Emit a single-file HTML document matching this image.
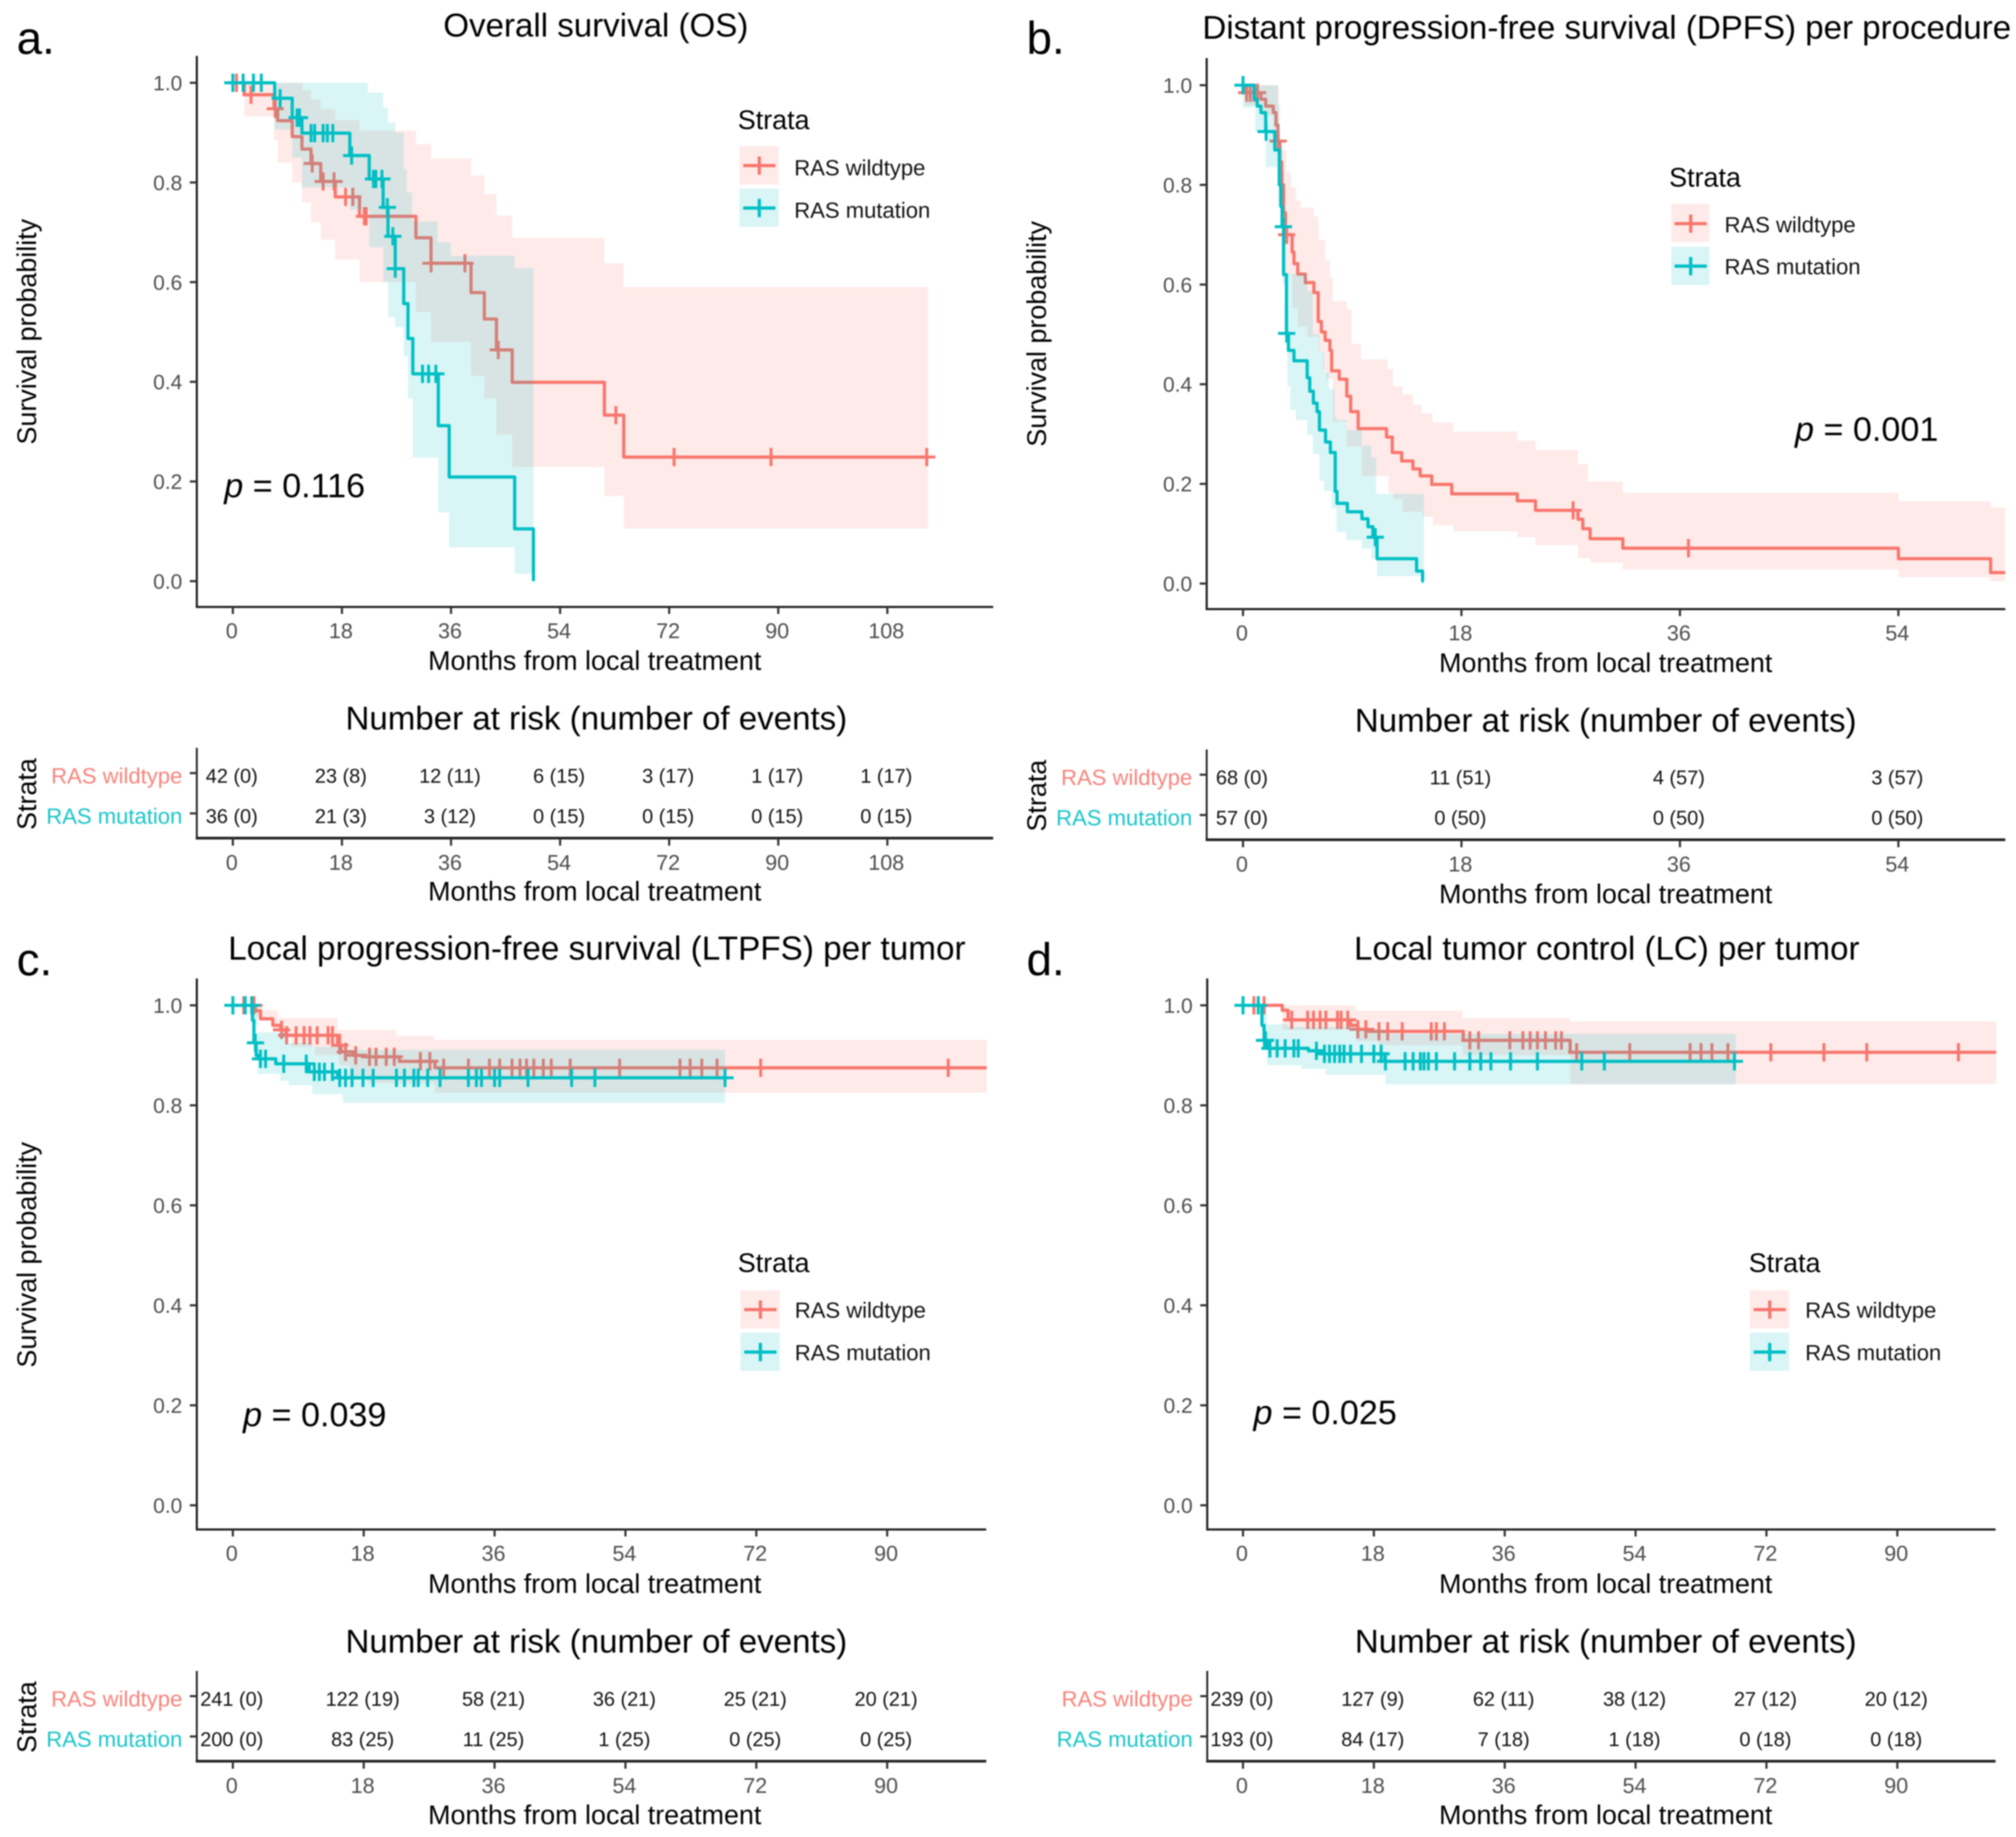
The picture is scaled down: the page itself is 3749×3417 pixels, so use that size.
<!DOCTYPE html>
<html lang="en">
<head>
<meta charset="utf-8">
<title>Kaplan-Meier survival by RAS status</title>
<style>
html,body{margin:0;padding:0;background:#fff;}
svg{display:block;filter:blur(1.4px);}
text{font-family:"Liberation Sans",sans-serif;fill:#000;}
.t{font-size:61.5px;text-anchor:middle;}
.ax{font-size:50px;text-anchor:middle;}
.pl{font-size:85px;}
.pv{font-size:63.5px;}
.lt{font-size:50px;}
.ll{font-size:41px;fill:#111;}
</style>
</head>
<body>
<svg id="chart" xmlns="http://www.w3.org/2000/svg" width="3749" height="3417" viewBox="0 0 3749 3417">
<rect x="0" y="0" width="3749" height="3417" fill="#fff"/>
<g id="marks"></g>

<text class="pl" x="31" y="100">a.</text>
<text class="pl" x="1909" y="100">b.</text>
<text class="pl" x="31" y="1814">c.</text>
<text class="pl" x="1909" y="1814">d.</text>

<text class="t" x="1108" y="68">Overall survival (OS)</text>
<text class="t" x="2988" y="72">Distant progression-free survival (DPFS) per procedure</text>
<text class="t" x="1110" y="1785" style="font-size:61.9px">Local progression-free survival (LTPFS) per tumor</text>
<text class="t" x="2988" y="1785">Local tumor control (LC) per tumor</text>

<text class="ax" transform="translate(67 617) rotate(-90)">Survival probability</text>
<text class="ax" transform="translate(1945 621) rotate(-90)">Survival probability</text>
<text class="ax" transform="translate(67 2334) rotate(-90)">Survival probability</text>

<text class="ax" x="1106" y="1246">Months from local treatment</text>
<text class="ax" x="2986" y="1250">Months from local treatment</text>
<text class="ax" x="1106" y="2963">Months from local treatment</text>
<text class="ax" x="2986" y="2963">Months from local treatment</text>

<text class="t" x="1109" y="1357">Number at risk (number of events)</text>
<text class="t" x="2986" y="1361">Number at risk (number of events)</text>
<text class="t" x="1109" y="3074">Number at risk (number of events)</text>
<text class="t" x="2986" y="3074">Number at risk (number of events)</text>

<text class="ax" x="1106" y="1675">Months from local treatment</text>
<text class="ax" x="2986" y="1680">Months from local treatment</text>
<text class="ax" x="1106" y="3393">Months from local treatment</text>
<text class="ax" x="2986" y="3393">Months from local treatment</text>

<text class="ax" transform="translate(67 1477) rotate(-90)">Strata</text>
<text class="ax" transform="translate(1945 1480) rotate(-90)">Strata</text>
<text class="ax" transform="translate(67 3194) rotate(-90)">Strata</text>

<text class="pv" x="417" y="925"><tspan font-style="italic">p</tspan> = 0.116</text>
<text class="pv" x="3338" y="820"><tspan font-style="italic">p</tspan> = 0.001</text>
<text class="pv" x="452" y="2653"><tspan font-style="italic">p</tspan> = 0.039</text>
<text class="pv" x="2331" y="2649"><tspan font-style="italic">p</tspan> = 0.025</text>

<g>
<text class="lt" x="1372" y="240">Strata</text>
<rect x="1375" y="272" width="73" height="71" fill="#F8766D" fill-opacity=".15"/>
<path d="M1382 308H1442M1412 291V325" stroke="#F8766D" stroke-width="6" fill="none"/>
<text class="ll" x="1477" y="326">RAS wildtype</text>
<rect x="1375" y="351" width="73" height="71" fill="#00BFC4" fill-opacity=".15"/>
<path d="M1382 387H1442M1412 370V404" stroke="#00BFC4" stroke-width="6" fill="none"/>
<text class="ll" x="1477" y="405">RAS mutation</text>
</g>
<g>
<text class="lt" x="3104" y="347">Strata</text>
<rect x="3108" y="379" width="71" height="71" fill="#F8766D" fill-opacity=".15"/>
<path d="M3114 416H3174M3144 399V433" stroke="#F8766D" stroke-width="6" fill="none"/>
<text class="ll" x="3207" y="432">RAS wildtype</text>
<rect x="3108" y="459" width="71" height="71" fill="#00BFC4" fill-opacity=".15"/>
<path d="M3114 495H3174M3144 478V512" stroke="#00BFC4" stroke-width="6" fill="none"/>
<text class="ll" x="3207" y="510">RAS mutation</text>
</g>
<g>
<text class="lt" x="1372" y="2366">Strata</text>
<rect x="1377" y="2400" width="73" height="71" fill="#F8766D" fill-opacity=".15"/>
<path d="M1384 2436H1444M1414 2419V2453" stroke="#F8766D" stroke-width="6" fill="none"/>
<text class="ll" x="1478" y="2451">RAS wildtype</text>
<rect x="1377" y="2479" width="73" height="71" fill="#00BFC4" fill-opacity=".15"/>
<path d="M1384 2515H1444M1414 2498V2532" stroke="#00BFC4" stroke-width="6" fill="none"/>
<text class="ll" x="1478" y="2530">RAS mutation</text>
</g>
<g>
<text class="lt" x="3252" y="2366">Strata</text>
<rect x="3254" y="2400" width="73" height="71" fill="#F8766D" fill-opacity=".15"/>
<path d="M3261 2436H3321M3291 2419V2453" stroke="#F8766D" stroke-width="6" fill="none"/>
<text class="ll" x="3357" y="2451">RAS wildtype</text>
<rect x="3254" y="2479" width="73" height="71" fill="#00BFC4" fill-opacity=".15"/>
<path d="M3261 2515H3321M3291 2498V2532" stroke="#00BFC4" stroke-width="6" fill="none"/>
<text class="ll" x="3357" y="2530">RAS mutation</text>
</g>
</svg>

<script>
// ---------- shared tick labels ----------
const yTickValues = [0, 0.2, 0.4, 0.6, 0.8, 1.0];
const osXTicks = [0, 18, 36, 54, 72, 90, 108];
const dpfsXTicks = [0, 18, 36, 54];
const ltpfsXTicks = [0, 18, 36, 54, 72, 90];
const lcXTicks = [0, 18, 36, 54, 72, 90];
const strataLabels = ['RAS wildtype', 'RAS mutation'];

// ---------- a. overall survival ----------
const osWildTimes = [0,1.9,6.8,7.4,9.8,11.4,12.9,14.5,16.9,20.9,30.2,32.7,39.3,41.5,43.5,46.1,61.3,64.5];
const osWildSurv = [1,.976,.948,.924,.892,.867,.838,.802,.771,.732,.689,.638,.579,.526,.464,.399,.333,.249];
const osWildUpperTimes = [0,11.5,12.9,14.5,16.9,20.9,30.2,32.7,39.3,41.5,43.5,46.1,61.3,64.5];
const osWildUpper = [1,.985,.967,.947,.925,.904,.877,.848,.814,.777,.733,.689,.638,.59];
const osWildLowerTimes = [0,1.9,6.8,7.4,9.8,11.4,12.9,14.5,16.9,20.9,30.2,32.7,39.3,41.5,43.5,46.1,61.3,64.5];
const osWildLower = [1,.932,.885,.84,.8,.76,.72,.685,.645,.6,.54,.48,.412,.367,.294,.229,.171,.106];
const osWildCensor = [.6,3,7,13.1,14.9,16.7,18.6,19.8,21.7,22,25.6,32.7,38.3,43.8,63.2,72.8,88.8,114.5];
const osWildEnd = [114.7];
const osMutTimes = [0,6.9,9.8,11.4,19.3,22.5,24.8,25.6,26.8,28.2,28.9,29.7,33.9,35.7,46.5,49.6];
const osMutSurv = [1,.969,.93,.899,.854,.807,.75,.692,.627,.557,.487,.416,.312,.209,.105,0];
const osMutUpperTimes = [0,22.3,24.8,25.6,26.8,28.2,28.7,29.6,33.8,36,46.5];
const osMutUpper = [1,.98,.95,.92,.9,.826,.78,.722,.68,.653,.628];
const osMutLowerTimes = [0,6.9,9.8,11.4,19.3,22.5,24.8,25.6,26.8,28.2,28.9,29.7,33.9,35.7,46.5];
const osMutLower = [1,.906,.85,.79,.745,.67,.6,.53,.51,.451,.367,.248,.138,.068,.015];
const osMutCensor = [0,1.7,3.4,4.7,7.8,10.6,11,12.9,13.5,14.9,15.6,16.5,19.6,23.2,23.6,24.6,25.5,26.4,26.8,31.3,32.3,33.5];
const osMutEnd = [49.6];
const osRiskWild = ['42 (0)','23 (8)','12 (11)','6 (15)','3 (17)','1 (17)','1 (17)'];
const osRiskMut = ['36 (0)','21 (3)','3 (12)','0 (15)','0 (15)','0 (15)','0 (15)'];

// ---------- b. distant progression-free survival ----------
const dpfsWildTimes = [0,.16,1.48,1.87,2.5,2.72,2.88,3.03,3.19,3.34,3.5,4.05,4.2,4.51,5.14,5.84,6.2,6.46,6.77,7.16,7.3,7.93,8.55,8.87,9.49,11.82,12.3,13.07,14,14.6,15.55,17.2,22.6,24.1,27.6,28,28.6,31.3,54,61.6];
const dpfsWildSurv = [1,.985,.972,.958,.945,.92,.888,.846,.8,.744,.7,.665,.642,.621,.604,.584,.526,.505,.488,.468,.427,.41,.376,.345,.311,.294,.263,.246,.23,.216,.199,.18,.166,.147,.129,.11,.09,.071,.05,.022];
const dpfsWildUpperTimes = [0,2.96,3.58,3.97,4.36,4.75,5.84,6.22,6.77,7.16,7.39,8.56,8.95,9.72,11.9,12.37,13.15,14,14.7,15.6,17.3,22.6,24.1,27.6,28.4,31.3,54,61.6];
const dpfsWildUpper = [1,.87,.825,.795,.768,.754,.737,.689,.648,.614,.567,.55,.481,.45,.43,.396,.38,.359,.342,.323,.305,.287,.268,.24,.205,.182,.165,.153];
const dpfsWildLowerTimes = [0,.16,1.48,2.5,2.96,3.27,3.58,4.05,4.51,5.29,6.22,6.61,6.85,7.39,8.56,9.8,11.98,12.37,13.15,14.8,15.63,17.3,22.6,24.1,27.6,28.6,31.3,54,61.6];
const dpfsWildLower = [1,.96,.94,.9,.825,.757,.62,.553,.516,.495,.465,.427,.41,.325,.275,.216,.182,.17,.144,.134,.117,.105,.093,.077,.051,.042,.028,.013,.005];
const dpfsWildCensor = [.3,.6,.9,1.2,2.9,3.6,27.2,36.7];
const dpfsWildEnd = [62.8];
const dpfsMutTimes = [0,.94,1.17,1.48,1.87,2.62,2.99,3.11,3.22,3.34,3.58,3.75,4.2,5.29,5.5,5.8,6.1,6.3,6.8,7.2,7.6,7.75,8.6,9.8,10.3,10.7,11.05,14.3,14.8];
const dpfsMutSurv = [1,.972,.958,.945,.907,.87,.8,.757,.716,.62,.502,.468,.447,.413,.386,.362,.345,.308,.284,.263,.185,.161,.144,.13,.114,.093,.05,.025,.005];
const dpfsMutUpperTimes = [0,2.88,3.03,3.27,3.42,3.58,5.29,5.76,6.3,6.69,7.08,7.55,7.7,8.56,9.8,10.58,10.97];
const dpfsMutUpper = [1,.96,.89,.825,.757,.621,.587,.5,.465,.424,.39,.335,.328,.308,.277,.253,.18];
const dpfsMutLowerTimes = [0,1.01,1.87,2.83,3.03,3.27,3.58,3.66,3.9,4.36,5.29,5.76,6.3,6.69,7.31,7.7,8.48,9.8,10.58,11.04];
const dpfsMutLower = [.955,.907,.836,.8,.76,.6,.464,.396,.349,.328,.298,.26,.206,.185,.151,.104,.087,.07,.05,.015];
const dpfsMutCensor = [0,1.9,3.33,3.6,10.9];
const dpfsMutEnd = [14.9];
const dpfsRiskWild = ['68 (0)','11 (51)','4 (57)','3 (57)'];
const dpfsRiskMut = ['57 (0)','0 (50)','0 (50)','0 (50)'];

// ---------- c. local progression-free survival ----------
const ltpfsWildTimes = [0,3.1,3.8,5.5,6.6,7.3,14.4,14.9,16.5,18.3,22.9,27.8];
const ltpfsWildSurv = [1,.989,.973,.96,.951,.94,.92,.907,.9,.897,.888,.875];
const ltpfsWildUpperTimes = [0,4.1,6.2,14.4,22.5,27.7];
const ltpfsWildUpper = [1,.99,.975,.951,.939,.931];
const ltpfsWildLowerTimes = [0,3.1,5.5,6.6,8,11.3,14.6,16,18.5,27.8];
const ltpfsWildLower = [1,.975,.95,.935,.917,.9,.88,.86,.845,.825];
const ltpfsWildCensor = [1.5,2.9,6.7,7.4,8.7,9.8,10.6,11.6,13.1,13.7,14.7,15.5,16.9,18.8,19.7,21.1,22.2,25.8,27.1,29,32.4,35.3,36.7,38.4,39.5,40.4,41.4,42.7,43.8,46.4,53.2,61.5,62.9,64.5,66.6,72.6,98.4];
const ltpfsWildEnd = [103.7];
const ltpfsMutTimes = [0,2.7,2.9,3.2,3.5,5.9,10.5,14.4];
const ltpfsMutSurv = [1,.97,.925,.9,.893,.883,.867,.855];
const ltpfsMutUpperTimes = [0,3.4,7.3,10.9,15.1];
const ltpfsMutUpper = [1,.946,.925,.917,.911];
const ltpfsMutLowerTimes = [0,2.7,3.4,6.5,7.7,10.9,15.1];
const ltpfsMutLower = [1,.96,.863,.849,.84,.822,.805];
const ltpfsMutCensor = [0,1.7,2.6,3.1,3.8,4.5,7,10.1,11.2,11.9,12.6,13.7,14.7,15.5,16.4,17.9,19.3,22.5,23.6,24.9,25.5,26.8,28.5,32.4,33.5,34.2,36,36.7,40.6,46.6,49.8,67.7];
const ltpfsMutEnd = [67.7];
const ltpfsRiskWild = ['241 (0)','122 (19)','58 (21)','36 (21)','25 (21)','20 (21)'];
const ltpfsRiskMut = ['200 (0)','83 (25)','11 (25)','1 (25)','0 (25)','0 (25)'];

// ---------- d. local tumor control ----------
const lcWildTimes = [0,5.4,6.2,14.8,15.8,17.3,30.3,45];
const lcWildSurv = [1,.99,.971,.96,.952,.948,.93,.906];
const lcWildUpperTimes = [0,15.5,30.2,45];
const lcWildUpper = [1,.989,.975,.968];
const lcWildLowerTimes = [0,5.4,15.5,18.7,30.2,45];
const lcWildLower = [1,.951,.928,.92,.9,.842];
const lcWildCensor = [1.5,2.9,6.7,8.9,9.7,10.6,11.4,13,13.5,14.4,15.8,16.9,18.7,19.9,21.9,25.9,26.6,27.7,31.2,32.4,36.7,38.5,39.5,40.5,41.6,43,43.8,45.9,53.2,61.5,63,64.5,66.7,72.6,79.9,85.8,98.4];
const lcWildEnd = [103.6];
const lcMutTimes = [0,2.6,2.9,3.3,9,10.8,19.5];
const lcMutSurv = [1,.96,.93,.914,.909,.903,.888];
const lcMutUpperTimes = [0,3.3,6.2,15.5,19.6];
const lcMutUpper = [1,.962,.957,.951,.943];
const lcMutLowerTimes = [0,2.6,3.3,8,11.4,19.6];
const lcMutLower = [1,.95,.88,.873,.861,.842];
const lcMutCensor = [0,2.1,2.95,3.1,3.7,4.7,5.8,7,7.6,10.1,11.2,11.9,12.6,13.3,13.9,14.8,16.3,18,19,19.6,22.3,23.4,24.4,24.9,25.5,26.6,29.1,31.2,32.7,34.1,36.8,40.5,46.6,49.7,67.6];
const lcMutEnd = [67.8];
const lcRiskWild = ['239 (0)','127 (9)','62 (11)','38 (12)','27 (12)','20 (12)'];
const lcRiskMut = ['193 (0)','84 (17)','7 (18)','1 (18)','0 (18)','0 (18)'];

// ---------- drawing ----------
const NS = 'http://www.w3.org/2000/svg';
const RED = '#F8766D';
const TEAL = '#00BFC4';
const root = document.getElementById('marks');

function svgEl(tag, attrs, parent) {
  const e = document.createElementNS(NS, tag);
  for (const k in attrs) e.setAttribute(k, attrs[k]);
  parent.appendChild(e);
  return e;
}
function stepPoints(times, vals, end) {
  const pts = [];
  for (let i = 0; i < times.length; i++) {
    if (i > 0) pts.push([times[i], vals[i - 1]]);
    pts.push([times[i], vals[i]]);
  }
  pts.push([end, vals[vals.length - 1]]);
  return pts;
}
function survAt(times, vals, t) {
  let s = vals[0];
  for (let i = 0; i < times.length; i++) if (times[i] <= t) s = vals[i];
  return s;
}

function drawSeries(g, ax, key, color, times, surv, upT, up, loT, lo, censor, end) {
  const X = t => ax.x0 + t * ax.pxPerMonth;
  const Y = s => ax.y1 + (1 - s) * ax.pxPerUnit;
  const upper = stepPoints(upT, up, end);
  const lower = stepPoints(loT, lo, end).reverse();
  const bandD = 'M' + upper.concat(lower).map(p => X(p[0]).toFixed(1) + ' ' + Y(p[1]).toFixed(1)).join('L') + 'Z';
  const band = svgEl('path', {d: bandD, fill: color, 'fill-opacity': 0.15, stroke: 'none'}, g);
  
  
  const lineD = 'M' + stepPoints(times, surv, end).map(p => X(p[0]).toFixed(1) + ' ' + Y(p[1]).toFixed(1)).join('L');
  const line = svgEl('path', {d: lineD, fill: 'none', stroke: color, 'stroke-width': 6, 'stroke-linejoin': 'round'}, g);
  
  
  censor.forEach(t => {
    const cx = X(t), cy = Y(survAt(times, surv, t));
    const m = svgEl('path', {d: `M${cx - 16} ${cy}H${cx + 16}M${cx} ${cy - 17}V${cy + 17}`, fill: 'none', stroke: color, 'stroke-width': 5.5}, g);
    
    
  });
}

function drawAxes(g, ax, xTicks) {
  const X = t => ax.x0 + t * ax.pxPerMonth;
  const Y = s => ax.y1 + (1 - s) * ax.pxPerUnit;
  const yAxis = svgEl('line', {x1: ax.left, x2: ax.left, y1: ax.top, y2: ax.bottom + 2, stroke: '#222', 'stroke-width': 4}, g);
  
  
  const xAxis = svgEl('line', {x1: ax.left - 2, x2: ax.right, y1: ax.bottom, y2: ax.bottom, stroke: '#222', 'stroke-width': 4}, g);
  
  
  yTickValues.forEach(v => {
    const tk = svgEl('line', {x1: ax.left - 13, x2: ax.left, y1: Y(v), y2: Y(v), stroke: '#333', 'stroke-width': 4}, g);
    
    
    const lb = svgEl('text', {x: ax.left - 27, y: Y(v) + 14, 'text-anchor': 'end', 'font-size': 39, style: 'fill:#4d4d4d'}, g);
    lb.textContent = v.toFixed(1);
    
    
  });
  xTicks.forEach(v => {
    const tk = svgEl('line', {x1: X(v), x2: X(v), y1: ax.bottom, y2: ax.bottom + 13, stroke: '#333', 'stroke-width': 4}, g);
    
    
    const lb = svgEl('text', {x: X(v) - 2, y: ax.bottom + 58, 'text-anchor': 'middle', 'font-size': 40, style: 'fill:#4d4d4d'}, g);
    lb.textContent = String(v);
    
    
  });
}

function drawRisk(g, ax, axisY, xTicks, rowWild, rowMut) {
  const X = t => ax.x0 + t * ax.pxPerMonth;
  const top = axisY - 168;
  const rows = [axisY - 121, axisY - 46];
  const yLine = svgEl('line', {x1: ax.left, x2: ax.left, y1: top, y2: axisY, stroke: '#222', 'stroke-width': 3.5}, g);
  
  
  const xLine = svgEl('line', {x1: ax.left - 2, x2: ax.right, y1: axisY, y2: axisY, stroke: '#222', 'stroke-width': 5}, g);
  
  
  [RED, TEAL].forEach((c, i) => {
    const tk = svgEl('line', {x1: ax.left - 13, x2: ax.left, y1: rows[i], y2: rows[i], stroke: '#333', 'stroke-width': 4}, g);
    
    
    const lb = svgEl('text', {x: ax.left - 27, y: rows[i] + 19, 'text-anchor': 'end', 'font-size': 41, style: 'fill:' + c, opacity: 0.9}, g);
    lb.textContent = strataLabels[i];
    
    
    const vals = i === 0 ? rowWild : rowMut;
    vals.forEach((txt, j) => {
      const cell = svgEl('text', {x: X(xTicks[j]) - 2, y: rows[i] + 18, 'text-anchor': 'middle', 'font-size': 37, style: 'fill:#111'}, g);
      cell.textContent = txt;
      
      
    });
  });
  xTicks.forEach(v => {
    const tk = svgEl('line', {x1: X(v), x2: X(v), y1: axisY, y2: axisY + 14, stroke: '#333', 'stroke-width': 4}, g);
    
    
    const lb = svgEl('text', {x: X(v) - 2, y: axisY + 59, 'text-anchor': 'middle', 'font-size': 40, style: 'fill:#4d4d4d'}, g);
    lb.textContent = String(v);
    
    
  });
}

// a
const gA = svgEl('g', {}, root);


const axA = {x0: 433, pxPerMonth: 11.27, y1: 154, pxPerUnit: 927, left: 366, right: 1847, top: 104, bottom: 1129};
drawSeries(gA, axA, 'wildtype', RED, osWildTimes, osWildSurv, osWildUpperTimes, osWildUpper, osWildLowerTimes, osWildLower, osWildCensor, osWildEnd[0]);
drawSeries(gA, axA, 'mutation', TEAL, osMutTimes, osMutSurv, osMutUpperTimes, osMutUpper, osMutLowerTimes, osMutLower, osMutCensor, osMutEnd[0]);
drawAxes(gA, axA, osXTicks);
drawRisk(gA, axA, 1559, osXTicks, osRiskWild, osRiskMut);

// b
const gB = svgEl('g', {}, root);


const axB = {x0: 2311.5, pxPerMonth: 22.57, y1: 158.5, pxPerUnit: 927, left: 2244, right: 3729, top: 108, bottom: 1133};
drawSeries(gB, axB, 'wildtype', RED, dpfsWildTimes, dpfsWildSurv, dpfsWildUpperTimes, dpfsWildUpper, dpfsWildLowerTimes, dpfsWildLower, dpfsWildCensor, dpfsWildEnd[0]);
drawSeries(gB, axB, 'mutation', TEAL, dpfsMutTimes, dpfsMutSurv, dpfsMutUpperTimes, dpfsMutUpper, dpfsMutLowerTimes, dpfsMutLower, dpfsMutCensor, dpfsMutEnd[0]);
drawAxes(gB, axB, dpfsXTicks);
drawRisk(gB, axB, 1562, dpfsXTicks, dpfsRiskWild, dpfsRiskMut);

// c
const gC = svgEl('g', {}, root);


const axC = {x0: 433, pxPerMonth: 13.52, y1: 1870, pxPerUnit: 930, left: 366, right: 1834, top: 1820, bottom: 2845};
drawSeries(gC, axC, 'wildtype', RED, ltpfsWildTimes, ltpfsWildSurv, ltpfsWildUpperTimes, ltpfsWildUpper, ltpfsWildLowerTimes, ltpfsWildLower, ltpfsWildCensor, ltpfsWildEnd[0]);
drawSeries(gC, axC, 'mutation', TEAL, ltpfsMutTimes, ltpfsMutSurv, ltpfsMutUpperTimes, ltpfsMutUpper, ltpfsMutLowerTimes, ltpfsMutLower, ltpfsMutCensor, ltpfsMutEnd[0]);
drawAxes(gC, axC, ltpfsXTicks);
drawRisk(gC, axC, 3276, ltpfsXTicks, ltpfsRiskWild, ltpfsRiskMut);

// d
const gD = svgEl('g', {}, root);


const axD = {x0: 2311.5, pxPerMonth: 13.52, y1: 1870, pxPerUnit: 930, left: 2245, right: 3711, top: 1820, bottom: 2845};
drawSeries(gD, axD, 'wildtype', RED, lcWildTimes, lcWildSurv, lcWildUpperTimes, lcWildUpper, lcWildLowerTimes, lcWildLower, lcWildCensor, lcWildEnd[0]);
drawSeries(gD, axD, 'mutation', TEAL, lcMutTimes, lcMutSurv, lcMutUpperTimes, lcMutUpper, lcMutLowerTimes, lcMutLower, lcMutCensor, lcMutEnd[0]);
drawAxes(gD, axD, lcXTicks);
drawRisk(gD, axD, 3276, lcXTicks, lcRiskWild, lcRiskMut);
</script>
</body>
</html>
